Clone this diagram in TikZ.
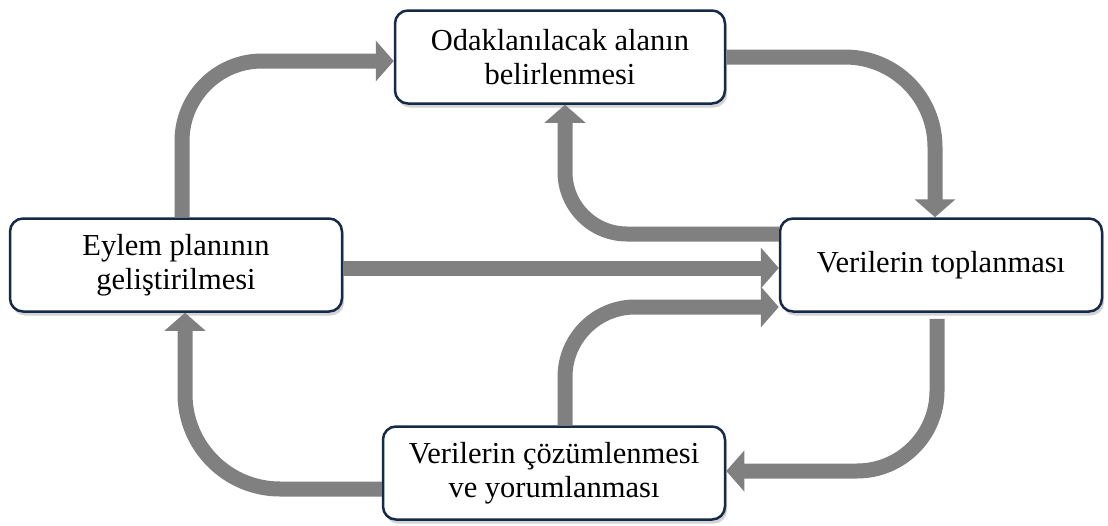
\documentclass[tikz,border=0pt]{standalone}
\usepackage{fontspec}
\setmainfont{Liberation Serif}
\usetikzlibrary{arrows.meta,shadows}
\definecolor{boxline}{RGB}{22,42,72}
\definecolor{flowgray}{RGB}{128,128,128}
\begin{document}
\begin{tikzpicture}[x=1pt, y=-1pt,
    stage/.style={draw=boxline, line width=2.5pt, fill=white, rounded corners=13pt, minimum width=#1, minimum height=93pt, align=center, font=\fontsize{30.5}{34}\selectfont, drop shadow={opacity=0.35, shadow xshift=2pt, shadow yshift=-4pt}},
    flow/.style={-{Triangle[width=40pt,length=18pt]}, line width=15pt, flowgray, rounded corners=#1},
    flow/.default=0pt
]
    \useasboundingbox (0,0) rectangle (1108,525);

    % Stages
    \node[stage=330pt] (odak) at (560,57) {Odaklanılacak alanın\\belirlenmesi};
    \node[stage=332pt] (eylem) at (176,265) {Eylem planının\\geliştirilmesi};
    \node[stage=322pt] (toplama) at (941,265) {Verilerin toplanması};
    \node[stage=342pt] (cozum) at (554,473) {Verilerin çözümlenmesi\\ve yorumlanması};

    % Outer cycle
    \draw[flow=80pt] ([xshift=6pt]eylem.north) |- ([yshift=-4pt]odak.west);
    \draw[flow=90pt] (odak.east) -| ([xshift=-6pt]toplama.north);
    \draw[flow=80pt, shorten <=6pt] ([xshift=-4pt]toplama.south) |- ([yshift=2pt]cozum.east);
    \draw[flow=95pt] ([yshift=-16pt]cozum.west) -| ([xshift=9pt]eylem.south);

    % Inner arrows
    \draw[flow=62pt] ([yshift=31pt]toplama.west) -| ([xshift=5pt]odak.south);
    \draw[flow] ([yshift=-3pt]eylem.east) -- ([yshift=-3pt]toplama.west);
    \draw[flow=70pt] ([xshift=11pt]cozum.north) |- ([yshift=-42pt]toplama.west);

\end{tikzpicture}
\end{document}
